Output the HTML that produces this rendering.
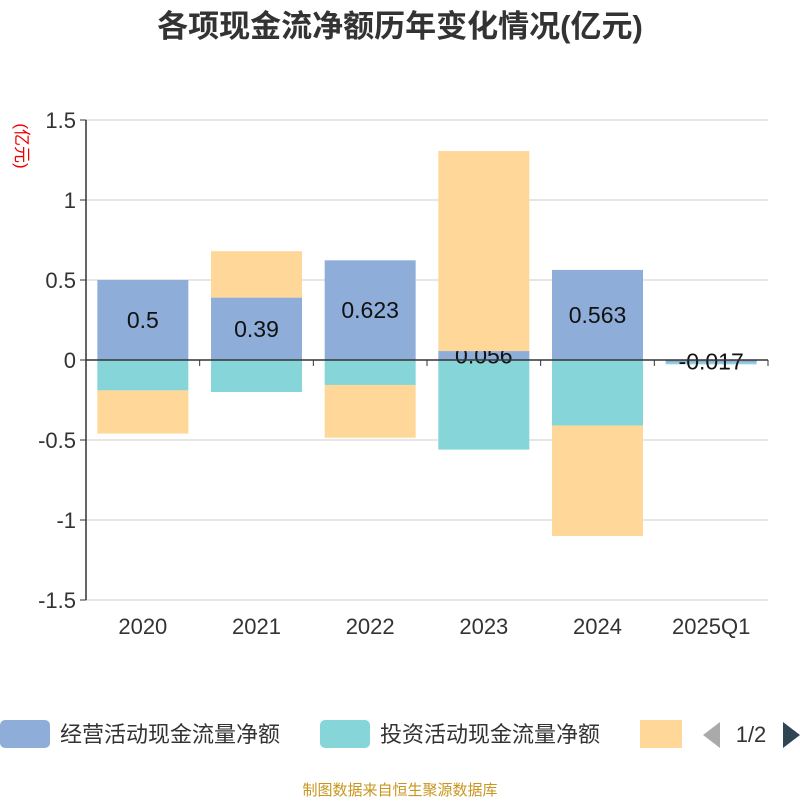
<!DOCTYPE html>
<html><head><meta charset="utf-8"><style>
body{margin:0;background:#fff;font-family:"Liberation Sans","Noto Sans CJK SC",sans-serif}
</style></head><body>
<svg id="c" width="800" height="800" xmlns="http://www.w3.org/2000/svg" font-family="Liberation Sans, Noto Sans CJK SC, sans-serif">
<text x="400" y="37" text-anchor="middle" font-size="31" font-weight="bold" fill="#333">各项现金流净额历年变化情况(亿元)</text>
<text transform="translate(16,146) rotate(90)" text-anchor="middle" font-size="17" fill="#e00">(亿元)</text>
<g id="grid"></g><g id="bars"></g><g id="axes"></g>
<g>
<g><rect x="0" y="720" width="50" height="28" rx="5" fill="#8eaed9"/><text x="60" y="742" font-size="22" fill="#333">经营活动现金流量净额</text></g>
<g><rect x="320" y="720" width="50" height="28" rx="5" fill="#86d5d8"/><text x="380" y="742" font-size="22" fill="#333">投资活动现金流量净额</text></g>
<g><rect x="640" y="720" width="42" height="28" fill="#ffd899"/></g>
<polygon points="720,722 720,748 703,735" fill="#aaa"/>
<text x="751" y="742" text-anchor="middle" font-size="22" fill="#333">1/2</text>
<polygon points="783,722 783,748 800,735" fill="#2f4554"/>
</g>
<text x="400" y="795" text-anchor="middle" font-size="15" fill="#c8961e">制图数据来自恒生聚源数据库</text>
</svg>
<script>
const categories=["2020","2021","2022","2023","2024","2025Q1"];
const operating=[0.5,0.39,0.623,0.056,0.563,-0.017];
const investing=[-0.19,-0.2,-0.156,-0.56,-0.41,-0.01];
const financing=[-0.27,0.29,-0.33,1.25,-0.69,0];
const yTicks=[1.5,1,0.5,0,-0.5,-1,-1.5];
const NS="http://www.w3.org/2000/svg";
const x0=86,x1=768,bw=(x1-x0)/categories.length;
const y=v=>360-v*160;
function mk(t,a,p){const e=document.createElementNS(NS,t);for(const k in a)e.setAttribute(k,a[k]);p.appendChild(e);return e;}
const grid=document.getElementById('grid'),bars=document.getElementById('bars'),axes=document.getElementById('axes');
yTicks.forEach(v=>{
 if(v!==0){const g=mk('line',{x1:x0,x2:x1,y1:y(v),y2:y(v),stroke:'#ccc'},grid);
 
 }
 mk('line',{x1:x0-6,x2:x0,y1:y(v),y2:y(v),stroke:'#333'},axes);
 const t=mk('text',{x:x0-10,y:y(v)+8,'text-anchor':'end','font-size':22,fill:'#333'},axes);t.textContent=v;
 
 
});
const labels=document.createElementNS(NS,'g');
categories.forEach((c,i)=>{
 const cx=x0+bw*(i+0.5),w=91,bx=cx-w/2;
 let pos=0,neg=0;
 [[operating,'#8eaed9','operating'],[investing,'#86d5d8','investing'],[financing,'#ffd899','financing']].forEach(([arr,col,nm])=>{
  const v=arr[i];let a,b;
  if(v>=0){a=pos;b=pos+v;pos=b;}else{a=neg;b=neg+v;neg=b;}
  const r=mk('rect',{x:bx,y:Math.min(y(a),y(b)),width:w,height:Math.abs(y(b)-y(a)),fill:col},bars);
  
  
 });
 const v=operating[i];
 const t=mk('text',{x:cx,y:y(v/2)+8,'text-anchor':'middle','font-size':23,fill:'#111'},bars);t.textContent=v;
 
 
 if(i===3){bars.insertBefore(t,bars.children[bars.children.length-2]);}
 const l=mk('text',{x:cx,y:634,'text-anchor':'middle','font-size':22,fill:'#333'},axes);l.textContent=c;
 
 
});
for(let i=0;i<=categories.length;i++)mk('line',{x1:x0+bw*i,x2:x0+bw*i,y1:360,y2:366,stroke:'#333'},axes);
const xa=mk('line',{x1:x0,x2:x1,y1:360,y2:360,stroke:'#333','stroke-width':1.5},axes);


const ya=mk('line',{x1:x0,x2:x0,y1:120,y2:600,stroke:'#333','stroke-width':1.5},axes);


</script>
</body></html>
